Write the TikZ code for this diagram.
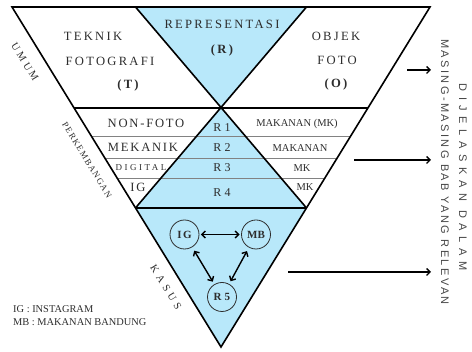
\documentclass[tikz,border=0pt]{standalone}
\usepackage{fontspec}
\setmainfont{Liberation Serif}
\newfontfamily\lsTop[LetterSpace=18]{Liberation Serif}
\newfontfamily\lsMid[LetterSpace=14]{Liberation Serif}
\newfontfamily\lsWide[LetterSpace=28]{Liberation Serif}
\newfontfamily\lsKas[LetterSpace=38]{Liberation Serif}
\newfontfamily\lsSansA[LetterSpace=51]{Liberation Sans}
\newfontfamily\lsSansB[LetterSpace=22]{Liberation Sans}
\usetikzlibrary{arrows.meta,calc}
\definecolor{skyfill}{RGB}{184,232,250}
\definecolor{txt}{RGB}{45,45,45}
\definecolor{sidetxt}{RGB}{70,70,70}
\definecolor{rulegray}{RGB}{130,130,130}
\newcommand{\fsz}[1]{\fontsize{#1}{#1}\selectfont}
\begin{document}
\begin{tikzpicture}[x=1pt,y=-1pt,
  heavy/.style={line width=1.6pt, line join=miter, draw=black},
  thinrule/.style={line width=0.8pt, draw=rulegray},
  lbl/.style={inner sep=0pt, text=txt},
  circ/.style={circle, draw=txt, line width=0.8pt, fill=skyfill, minimum size=29pt, inner sep=0pt, text=txt},
  dbl/.style={{Straight Barb[length=3.5pt,width=7pt]}-{Straight Barb[length=3.5pt,width=7pt]}, line width=1.4pt},
  side/.style={-{Straight Barb[length=3.5pt,width=7pt]}, line width=1.4pt}]
\useasboundingbox (0,0) rectangle (472,352);
% main geometry
\coordinate (TL) at (12,7);
\coordinate (TR) at (430,7);
\coordinate (AP) at (221,347);
\coordinate (A) at (135.5,7);
\coordinate (B) at (306.5,7);
\coordinate (L1) at ($(TL)!0.297!(AP)$);
\coordinate (R1) at ($(TR)!0.297!(AP)$);
\coordinate (C) at ($(TL)!0.591!(AP)$);
\coordinate (D) at ($(TR)!0.591!(AP)$);
\coordinate (X) at ($(A)!0.5!(D)$);
\coordinate (La) at ($(TL)!0.382!(AP)$);
\coordinate (Ra) at ($(TR)!0.382!(AP)$);
\coordinate (Lb) at ($(TL)!0.444!(AP)$);
\coordinate (Rb) at ($(TR)!0.444!(AP)$);
\coordinate (Lc) at ($(TL)!0.503!(AP)$);
\coordinate (Rc) at ($(TR)!0.503!(AP)$);
% fills
\fill[skyfill] (A) -- (B) -- (X) -- cycle;
\fill[skyfill] (X) -- (C) -- (D) -- cycle;
\fill[skyfill] (C) -- (D) -- (AP) -- cycle;
% thin rules
\draw[thinrule] (La) -- (Ra);
\draw[thinrule] (Lb) -- (Rb);
\draw[thinrule] (Lc) -- (Rc);
% heavy lines
\draw[heavy] (A) -- (D);
\draw[heavy] (B) -- (C);
\draw[heavy] (L1) -- (R1);
\draw[heavy] (C) -- (D);
\draw[heavy] (TL) -- (TR) -- (AP) -- cycle;
% top texts
\node[lbl] (rep) at (222,24) {\lsTop\fsz{12.6}REPRESENTASI};
\node[lbl] (repR) at (222,50) {\lsTop\bfseries\fsz{12.6}(R)};
\node[lbl] (tek) at (93,36) {\lsTop\fsz{12.6}TEKNIK};
\node[lbl] (fot) at (110,61) {\lsTop\fsz{12.6}FOTOGRAFI};
\node[lbl] (tekT) at (128,85) {\lsTop\bfseries\fsz{12.6}(T)};
\node[lbl] (obj) at (336,36) {\lsTop\fsz{12.6}OBJEK};
\node[lbl] (foto) at (337,60) {\lsTop\fsz{12.6}FOTO};
\node[lbl] (objO) at (336,84) {\lsTop\bfseries\fsz{12.6}(O)};
% side labels
\node[lbl, rotate=-58.5] (umum) at (25,62) {\lsWide\fsz{10.5}UMUM};
\node[lbl, rotate=-58.5] (perk) at (87,160) {\lsMid\fsz{8.8}PERKEMBANGAN};
\node[lbl, rotate=-58.5] (kas) at (166,287) {\lsKas\fsz{10.5}KASUS};
% middle rows left
\node[lbl] (nonf) at (146,123) {\lsMid\fsz{12.6}NON-FOTO};
\node[lbl] (mek) at (143,147) {\lsMid\fsz{12.6}MEKANIK};
\node[lbl] (dig) at (141,168) {\lsWide\fsz{9}DIGITAL};
\node[lbl] (igl) at (138,187) {\lsMid\fsz{12.6}IG};
% middle rows center
\node[lbl] (r1) at (222,128) {\lsWide\fsz{12}R1};
\node[lbl] (r2) at (222,148) {\lsWide\fsz{12}R2};
\node[lbl] (r3) at (222,168) {\lsWide\fsz{12}R3};
\node[lbl] (r4) at (222,193) {\lsWide\fsz{12}R4};
% middle rows right
\node[lbl] (mk1) at (297,124) {\fsz{10.5}MAKANAN (MK)};
\node[lbl] (mk2) at (300,148) {\fsz{10.5}MAKANAN};
\node[lbl] (mk3) at (302,168) {\fsz{10.5}MK};
\node[lbl] (mk4) at (305,187) {\fsz{10.5}MK};
% case circles
\node[circ] (IG) at (184.5,234.5) {\lsMid\bfseries\fsz{11}IG};
\node[circ] (MB) at (256,234.5) {\bfseries\fsz{11}MB};
\node[circ] (R5) at (222,297) {\lsWide\bfseries\fsz{11}R5};
\draw[dbl, shorten <=1.5pt, shorten >=1.5pt] (IG) -- (MB);
\draw[dbl, shorten <=4pt, shorten >=3pt] (IG) -- (R5);
\draw[dbl, shorten <=4pt, shorten >=3pt] (MB) -- (R5);
% legend
\node[lbl, anchor=west] (leg1) at (13,309) {\fsz{10.4}IG : INSTAGRAM};
\node[lbl, anchor=west] (leg2) at (13,322) {\fsz{10.4}MB : MAKANAN BANDUNG};
% right arrows
\coordinate (s1) at (407,70); \coordinate (e1) at (431,70);
\coordinate (s2) at (354,160); \coordinate (e2) at (431,160);
\coordinate (s3) at (288,272); \coordinate (e3) at (431,272);
\draw[side] (s1) -- (e1);
\draw[side] (s2) -- (e2);
\draw[side] (s3) -- (e3);
% right vertical text
\node[lbl, rotate=-90, text=sidetxt] (dij) at (463,177) {\lsSansA\fsz{11}DIJELASKAN DALAM};
\node[lbl, rotate=-90, text=sidetxt] (mas) at (445,172) {\lsSansB\fsz{11}MASING-MASING BAB YANG RELEVAN};
\end{tikzpicture}
\end{document}
